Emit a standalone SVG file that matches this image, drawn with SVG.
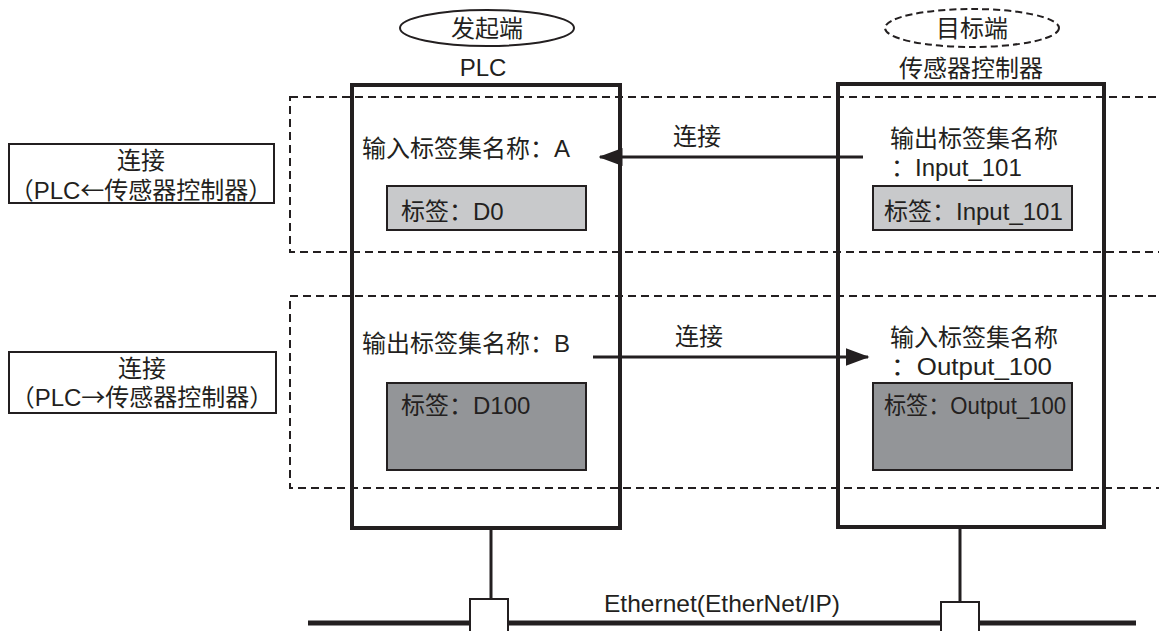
<svg xmlns="http://www.w3.org/2000/svg" width="1159" height="631" viewBox="0 0 1159 631">
<style>
text{font-family:"Liberation Sans","Noto Sans CJK SC",sans-serif;font-size:24px;fill:#231f20}
.cjk{font-family:"Noto Sans CJK SC",sans-serif}
.dash{fill:none;stroke:#231f20;stroke-width:2;stroke-dasharray:8 5}
.dev{fill:none;stroke:#231f20;stroke-width:4}
.lbl{fill:#fff;stroke:#231f20;stroke-width:2}
.tagL{fill:#c8c9cb;stroke:#231f20;stroke-width:2}
.tagD{fill:#939598;stroke:#231f20;stroke-width:2}
.ln{fill:none;stroke:#231f20;stroke-width:3}
.mid{text-anchor:middle}
</style>
<defs>
<marker id="ah" markerWidth="8" markerHeight="6" refX="7.5" refY="3" orient="auto" markerUnits="strokeWidth">
<path d="M0,0 L8,3 L0,6 Z" fill="#231f20"/>
</marker>
</defs>
<rect x="0" y="0" width="1159" height="631" fill="#fff"/>
<g id="zones">
<rect class="dash" x="290" y="97" width="900" height="155"/>
<rect class="dash" x="290" y="296" width="900" height="192"/>
</g>
<g id="initiator">
<ellipse cx="487" cy="28" rx="87" ry="18" fill="none" stroke="#231f20" stroke-width="2"/>
<text class="mid" x="487" y="37">发起端</text>
<text class="mid" x="483" y="76">PLC</text>
</g>
<g id="target">
<ellipse cx="972" cy="28" rx="87" ry="19" fill="none" stroke="#231f20" stroke-width="2" stroke-dasharray="7 4"/>
<text class="mid" x="972" y="37">目标端</text>
<text class="mid" x="971" y="77">传感器控制器</text>
</g>
<g id="plc">
<rect class="dev" x="352" y="85" width="268" height="443"/>
<text x="362" y="157">输入标签集名称：A</text>
<rect class="tagL" x="387" y="186" width="199" height="44"/>
<text x="401" y="220">标签：D0</text>
<text x="362" y="352">输出标签集名称：B</text>
<rect class="tagD" x="387" y="383" width="199" height="87"/>
<text x="401" y="414">标签：D100</text>
</g>
<g id="sensor">
<rect class="dev" x="838" y="84" width="266" height="443"/>
<text class="mid" x="974" y="147">输出标签集名称</text>
<text x="891" y="176">：Input_101</text>
<rect class="tagL" x="873" y="186" width="199" height="44"/>
<text x="884" y="220">标签：Input_101</text>
<text class="mid" x="974" y="346">输入标签集名称</text>
<text x="891" y="375" textLength="161" lengthAdjust="spacingAndGlyphs">：Output_100</text>
<rect class="tagD" x="873" y="383" width="199" height="87"/>
<text x="884" y="414" textLength="182" lengthAdjust="spacingAndGlyphs">标签：Output_100</text>
</g>
<g id="label-in">
<rect class="lbl" x="9" y="144" width="265" height="59"/>
<text class="mid" x="141" y="169">连接</text>
<text class="mid" x="141" y="199">（PLC<tspan class="cjk">←</tspan>传感器控制器）</text>
</g>
<g id="label-out">
<rect class="lbl" x="9" y="352" width="267" height="61"/>
<text class="mid" x="142" y="377">连接</text>
<text class="mid" x="142" y="406">（PLC<tspan class="cjk">→</tspan>传感器控制器）</text>
</g>
<g id="network">
<line x1="308" y1="623" x2="1136" y2="623" stroke="#231f20" stroke-width="5"/>
<text x="604" y="612" textLength="236" lengthAdjust="spacingAndGlyphs">Ethernet(EtherNet/IP)</text>
</g>
<g id="port-plc">
<rect x="470" y="599" width="38" height="34" fill="#fff" stroke="#231f20" stroke-width="2"/>
</g>
<g id="port-sensor">
<rect x="941" y="602" width="38" height="31" fill="#fff" stroke="#231f20" stroke-width="2"/>
</g>
<g id="connectors">
<line class="ln" x1="863" y1="157" x2="600" y2="157" marker-end="url(#ah)"/>
<text x="673" y="145">连接</text>
<line class="ln" x1="593" y1="357" x2="868" y2="357" marker-end="url(#ah)"/>
<text x="675" y="345">连接</text>
<line class="ln" x1="491" y1="530" x2="491" y2="599"/>
<line class="ln" x1="960" y1="529" x2="960" y2="602"/>
</g>
</svg>
